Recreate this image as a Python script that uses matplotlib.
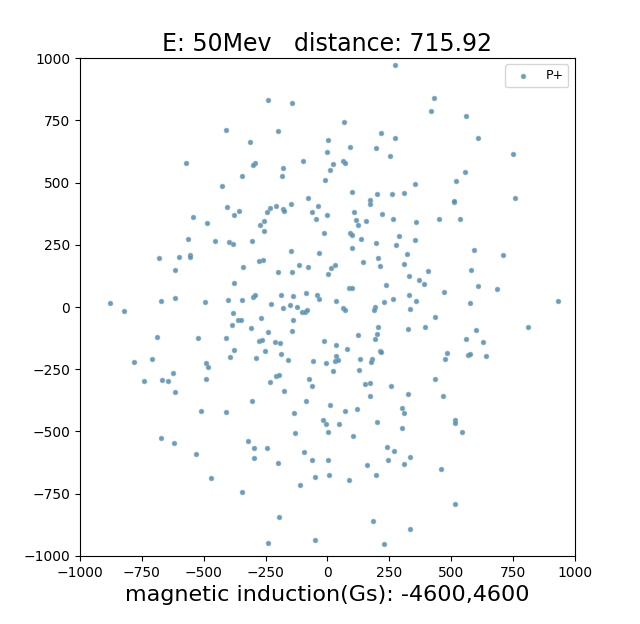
import matplotlib
matplotlib.use("Agg")
import matplotlib.pyplot as plt

# proton positions
x_pos = [
    -411, -570, -345, -427, -407, -359, -378, -543, -487,
    275, -240, -142, 67, -198, 215, 272, -314, 1, 93, 198, 0, 252, -294, -299,
    -97, 63, 70, 23, -178, 11, -182, -11, 98, 202, 262, 308, -80, 174, 173,
    -147, -39, -209, -231, -181, -174, -245, -64, 109, 0, 221, -47, 117, 157,
    266, -256, -274, 124,
    430, 418, 562, 609, 752, 557, 519, 355, 759, 510, 511, 450, 535, 357,
    -565, -454, -398, -380, -682, -601, -555, -555, -341, -617, -379, -877,
    -674, -616, -495, -402, -347, -821, -382, -363, -348, -386, -690, -524,
    -410, -376, -392, -782, -710, -489, -484, -625, -743, -670, -643, -489,
    -256, -15, 90, 101, 291, -305, 136, 196, 276, 99, -148, -34, 323, -275,
    -260, 206, 144, -116, -78, 32, 13, 213, 310, -201, -142, 4, 330, 237, 87,
    98, -86, -302, -291, -189, -139, -43, -34, 331, 36, 227, 264, -229, -151,
    -123, -178, 63, 71, 191, 188, -103, -92, -84, 336, -268, -140, -309, -240,
    -144, 324, 122, 203, 202, 191, -275, -266, -213, -190, -14, 33, -253,
    -187, 78, 211, 218, -287, -159, -57, -4, 31, 43, 33, 132, 179, 178, 21,
    128, -208, -195, -74, -233, -62, 151, 172, 257, -175,
    356, 593, 712, 406, 581, 372, 392, 607, 687, 473, 360, 576, 932, 435,
    396, 601, 810, 561, 631, 483, 476, 567, 576, 642, 435,
    -617, -512, -411, -671, -619, -531, -471, -344,
    324, -305, -85, 172, 11, -134, 71, 118, 300, 309, -16, -4, 46, 202, -130,
    4, 301, 102, -322, -295, -243, -95, 241, 269, -297, -64, 1, 247, 336,
    308, -201, 160, -51, 6, 196, 86, -111, -197, 186, 334, -239, -51, 227,
    468, 515, 518, 543, 461, 515,
]
y_pos = [
    712, 577, 526, 488, 401, 385, 368, 361, 338,
    972, 833, 819, 744, 707, 700, 677, 664, 672, 641, 637, 624, 606, 578, 569,
    585, 588, 577, 576, 557, 550, 525, 510, 462, 454, 455, 459, 438, 431, 412,
    412, 407, 406, 398, 395, 384, 381, 381, 380, 369, 372, 353, 348, 347,
    355, 344, 328, 328,
    838, 787, 766, 677, 614, 543, 505, 494, 436, 420, 424, 353, 352, 340,
    274, 265, 261, 253, 195, 202, 207, 200, 162, 147, 97, 17,
    24, 36, 20, 28, 30, -16, -23, -53, -51, -74, -122, -125,
    -126, -173, -199, -219, -209, -224, -241, -267, -299, -292, -296, -291,
    305, 299, 298, 290, 287, 266, 275, 257, 250, 239, 225, 216, 214, 186,
    190, 195, 179, 168, 162, 167, 158, 164, 171, 139, 139, 131, 124, 87, 77,
    77, 58, 42, 49, 48, 45, 48, 33, 48, 24, 22, 33, 13, 9,
    2, -4, -4, -14, 1, -12, -20, -20, -11, -6, -46, -51, -83, -99,
    -97, -90, -114, -79, -109, -129, -136, -132, -140, -145, -136, -153, -176,
    -188, -168, -177, -180, -203, -213, -215, -223, -216, -212, -195, -207, -208, -222, -256,
    -253, -276, -275, -290, -300, -319, -310, -306, -319, -336,
    271, 229, 207, 143, 150, 109, 93, 83, 71, 60, 26, 17, 24, -39,
    -82, -94, -79, -129, -140, -185, -209, -191, -189, -196, -291,
    -341, -416, -421, -527, -547, -589, -687, -743,
    -348, -379, -379, -358, -395, -425, -417, -408, -407, -424, -452, -470, -471, -463, -507,
    -503, -487, -519, -537, -566, -565, -583, -562, -577, -605, -614, -614, -614, -603,
    -630, -625, -633, -684, -674, -676, -695, -713, -843, -859, -891, -949, -934, -950,
    -356, -452, -464, -504, -649, -791,
]

title_text = 'E: 50Mev   distance: 715.92'
xlabel_text = 'magnetic induction(Gs): -4600,4600'

fig = plt.figure(figsize=(6.4, 6.24), dpi=100)
ax = fig.add_axes([0.125, 0.109, 0.773, 0.798])
ax.scatter(x_pos, y_pos, s=12, color='#4a8ad0', edgecolors='#8fb48a',
           linewidths=0.5, alpha=0.85, label='P+')
ax.set_xlim(-1000, 1000)
ax.set_ylim(-1000, 1000)
ax.set_title(title_text, fontsize=17, pad=5)
ax.set_xlabel(xlabel_text, fontsize=16)
ax.legend(loc='upper right', fontsize=9)

fig.savefig('out.png', dpi=100)
